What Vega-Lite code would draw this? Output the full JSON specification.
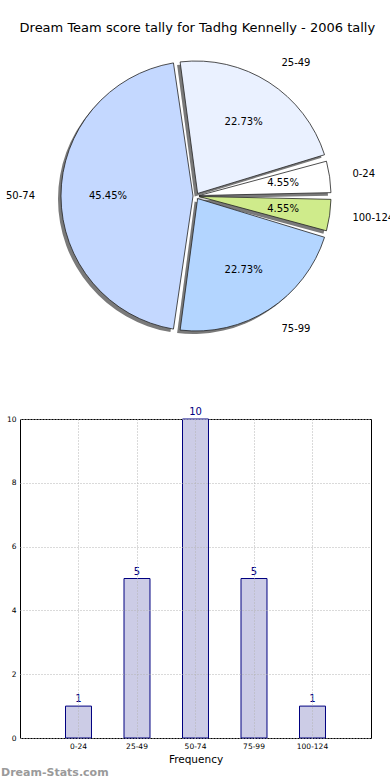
{
  "$schema": "https://vega.github.io/schema/vega-lite/v6.json",
  "padding": {"top": 22, "left": 0, "right": 0, "bottom": 0},
  "background": "white",
  "title": {"text": "Dream Team score tally for Tadhg Kennelly - 2006 tally", "fontSize": 13, "font": "DejaVu Sans", "fontWeight": "normal", "anchor": "middle", "offset": 11, "color": "black"},
  "data": {"values": [
    {"range": "0-24", "low": 0, "count": 1, "pct": "4.55%"},
    {"range": "25-49", "low": 25, "count": 5, "pct": "22.73%"},
    {"range": "50-74", "low": 50, "count": 10, "pct": "45.45%"},
    {"range": "75-99", "low": 75, "count": 5, "pct": "22.73%"},
    {"range": "100-124", "low": 100, "count": 1, "pct": "4.55%"}
  ]},
  "spacing": 60,
  "vconcat": [
    {
      "width": 352,
      "height": 300,
      "view": {"stroke": null},
      "encoding": {
        "theta": {"field": "count", "type": "quantitative", "stack": true, "scale": {"range": [1.5708, -4.7124]}},
        "order": {"field": "low", "type": "quantitative"}
      },
      "layer": [
        {"mark": {"type": "arc", "outerRadius": 135, "innerRadius": 3, "padAngle": 0.05, "color": "#7a7a7a", "xOffset": -3, "yOffset": 3}},
        {"mark": {"type": "arc", "outerRadius": 135, "innerRadius": 3, "padAngle": 0.05, "stroke": "#222222", "strokeWidth": 0.8},
         "encoding": {"color": {"field": "range", "type": "nominal", "scale": {"domain": ["0-24", "25-49", "50-74", "75-99", "100-124"], "range": ["#ffffff", "#eaf1ff", "#c4d8ff", "#b3d5ff", "#cfeb8b"]}, "legend": null}}},
        {"mark": {"type": "text", "radius": 88, "fontSize": 10, "color": "black", "font": "DejaVu Sans"},
         "encoding": {"text": {"field": "pct"}}},
        {"mark": {"type": "text", "radius": 158, "fontSize": 10, "align": "left", "color": "black", "font": "DejaVu Sans"},
         "encoding": {"text": {"field": "range"}, "opacity": {"condition": {"test": "datum.range == '50-74'", "value": 0}, "value": 1}}},
        {"mark": {"type": "text", "radius": 161, "fontSize": 10, "align": "right", "color": "black", "font": "DejaVu Sans"},
         "encoding": {"text": {"field": "range"}, "opacity": {"condition": {"test": "datum.range == '50-74'", "value": 1}, "value": 0}}}
      ]
    },
    {
      "width": 351,
      "height": 319,
      "view": {"stroke": "black", "strokeWidth": 1},
      "title": {"text": "Dream-Stats.com", "orient": "bottom", "anchor": "start", "fontSize": 11, "fontWeight": "bold", "color": "#9a9a9a", "offset": 2, "font": "DejaVu Sans"},
      "encoding": {
        "x": {"field": "range", "type": "nominal", "sort": {"field": "low", "op": "min"},
              "scale": {"paddingInner": 0.556, "paddingOuter": 0.778},
              "axis": {"title": "Frequency", "titleFontSize": 10.5, "titleFontWeight": "normal", "titlePadding": 5, "labelAngle": 0, "labelFontSize": 7.5, "labelPadding": 4, "ticks": false, "domain": false, "grid": true, "bandPosition": 0.5, "gridColor": "#b4b4b4", "gridDash": [1, 2], "zindex": 1, "labelColor": "black", "titleColor": "black"}},
        "y": {"field": "count", "type": "quantitative", "scale": {"domain": [0, 10]},
              "axis": {"title": null, "values": [0, 2, 4, 6, 8, 10], "labelFontSize": 7.5, "labelPadding": 4, "ticks": false, "domain": false, "grid": true, "gridColor": "#b4b4b4", "gridDash": [1, 2], "zindex": 1, "minExtent": 19, "maxExtent": 19, "labelColor": "black"}}
      },
      "layer": [
        {"mark": {"type": "bar", "fill": "#cccce6", "stroke": "#000080", "strokeWidth": 1}},
        {"mark": {"type": "text", "dy": -7, "fontSize": 10, "color": "#000080", "font": "DejaVu Sans"},
         "encoding": {"text": {"field": "count", "type": "quantitative"}}}
      ]
    }
  ],
  "config": {"font": "DejaVu Sans"}
}
